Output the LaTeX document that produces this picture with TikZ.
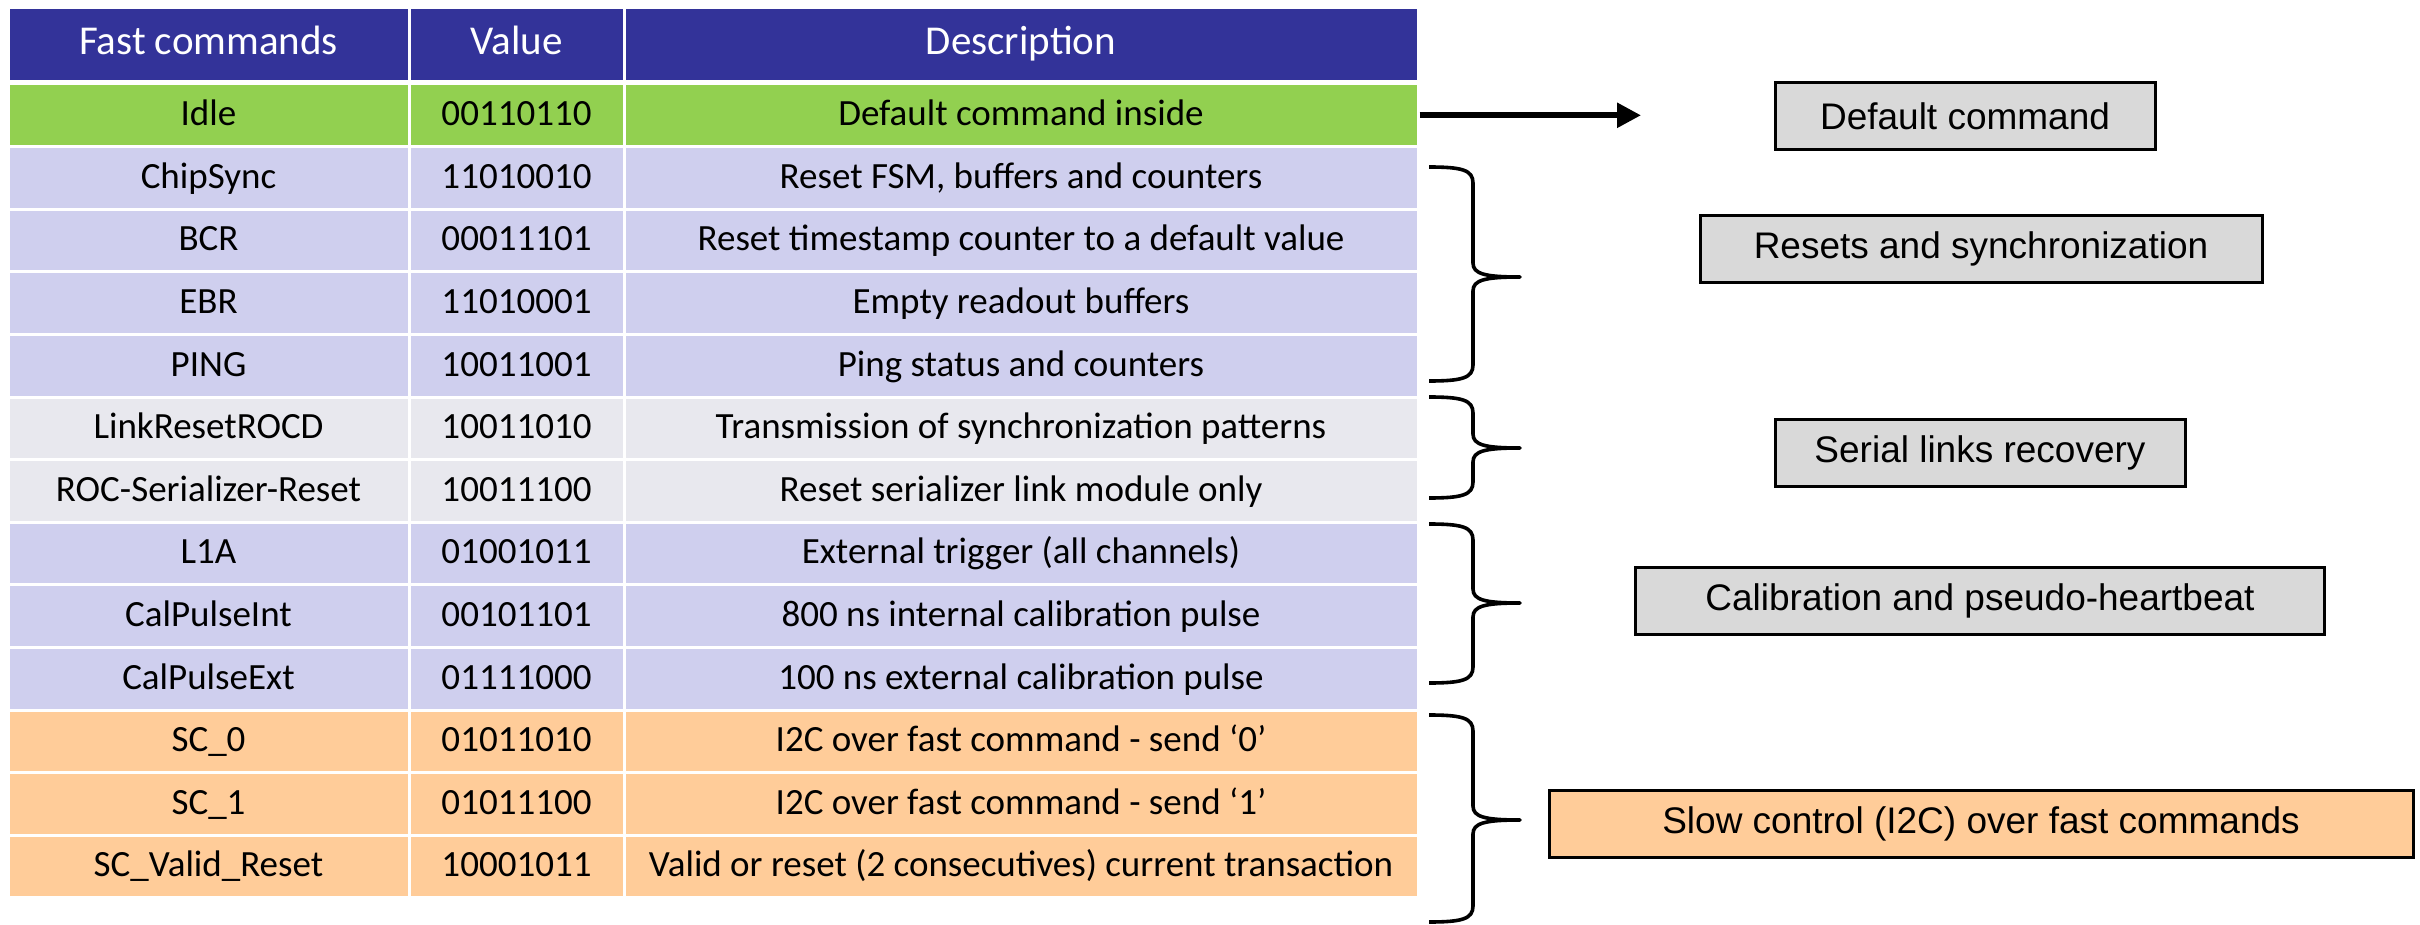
\documentclass[tikz,border=0pt]{standalone}
\usepackage{fontspec}
\setmainfont{Carlito}
\newfontfamily\boxfont{Liberation Sans}
\usepackage{xcolor}
\usetikzlibrary{arrows.meta}

\definecolor{hdrblue}{HTML}{333399}
\definecolor{idlegreen}{HTML}{92D050}
\definecolor{rowpurple}{HTML}{CFCFEE}
\definecolor{rowgray}{HTML}{E8E8EE}
\definecolor{roworange}{HTML}{FFCC99}
\definecolor{boxgray}{HTML}{D9D9D9}

% right curly brace of a command group: top, tip, bottom
\newcommand\groupbrace[3]{%
	\draw[brace_line] (1429,#1) .. controls (1462,#1) and (1473,#1+3) .. (1473,#1+16)
		-- (1473,#2-14) .. controls (1473,#2-3) and (1485,#2) .. (1520,#2)
		.. controls (1485,#2) and (1473,#2+3) .. (1473,#2+14)
		-- (1473,#3-16) .. controls (1473,#3-3) and (1462,#3) .. (1429,#3);
}

\begin{document}
\begin{tikzpicture}[x=0.5pt,y=-0.5pt]
		\tikzstyle{cell}=[draw=white, line width=1.5pt, inner sep=0pt, minimum height=31.3pt, text height=12pt, text depth=1.6pt, font=\fontsize{18.5}{22}\selectfont]
		\tikzstyle{head}=[cell, fill=hdrblue, text=white, minimum height=37pt, text height=12pt, text depth=2.8pt, font=\fontsize{20.5}{24}\selectfont]
		\tikzstyle{group}=[draw=black, line width=1.5pt, fill=boxgray, minimum height=33.5pt, font=\boxfont\fontsize{18.5}{22}\selectfont]
		\tikzstyle{brace_line}=[line width=1.8pt, line join=round]
		\tikzstyle{fc_arrow}=[line width=2.8pt, -{Triangle[length=12pt,width=12pt]}]

		\useasboundingbox (0,0) rectangle (2420,925);

		% header
		\node [head, minimum width=200.5pt] (hcmd) at (208.5,45) {Fast commands};
		\node [head, minimum width=107.5pt] (hval) at (516.5,45) {Value};
		\node [head, minimum width=397pt] (hdesc) at (1021,45) {Description};

		% command rows
		\foreach \cmd/\val/\desc/\clr [count=\i from 0] in {
			Idle/00110110/{Default command inside}/idlegreen,
			ChipSync/11010010/{Reset FSM, buffers and counters}/rowpurple,
			BCR/00011101/{Reset timestamp counter to a default value}/rowpurple,
			EBR/11010001/{Empty readout buffers}/rowpurple,
			PING/10011001/{Ping status and counters}/rowpurple,
			LinkResetROCD/10011010/{Transmission of synchronization patterns}/rowgray,
			ROC-Serializer-Reset/10011100/{Reset serializer link module only}/rowgray,
			L1A/01001011/{External trigger (all channels)}/rowpurple,
			CalPulseInt/00101101/{800 ns internal calibration pulse}/rowpurple,
			CalPulseExt/01111000/{100 ns external calibration pulse}/rowpurple,
			SC\_0/01011010/{I2C over fast command - send ‘0’}/roworange,
			SC\_1/01011100/{I2C over fast command - send ‘1’}/roworange,
			SC\_Valid\_Reset/10001011/{Valid or reset (2 consecutives) current transaction}/roworange}
		{
			\node [cell, fill=\clr, minimum width=200.5pt] (cmd\i) at (208.5,115.3+62.6*\i) {\cmd};
			\node [cell, fill=\clr, minimum width=107.5pt] (val\i) at (516.5,115.3+62.6*\i) {\val};
			\node [cell, fill=\clr, minimum width=397pt] (desc\i) at (1021,115.3+62.6*\i) {\desc};
		}

		% groups
		\coordinate (idle_tip) at (1641,115.3);
		\draw [fc_arrow] (desc0.east) -- (idle_tip);
		\node [group, minimum width=190pt] (default) at (1965,116) {Default command};

		\groupbrace{167}{277}{381}
		\node [group, minimum width=281pt] (resets) at (1981,249) {Resets and synchronization};

		\groupbrace{397}{448}{498}
		\node [group, minimum width=205pt] (serial) at (1980,453) {Serial links recovery};

		\groupbrace{524}{603}{683}
		\node [group, minimum width=344.5pt] (calib) at (1980,601) {Calibration and pseudo-heartbeat};

		\groupbrace{715}{820}{922}
		\node [group, fill=roworange, minimum width=432pt] (slow) at (1981,824) {Slow control (I2C) over fast commands};

	\end{tikzpicture}
\end{document}
